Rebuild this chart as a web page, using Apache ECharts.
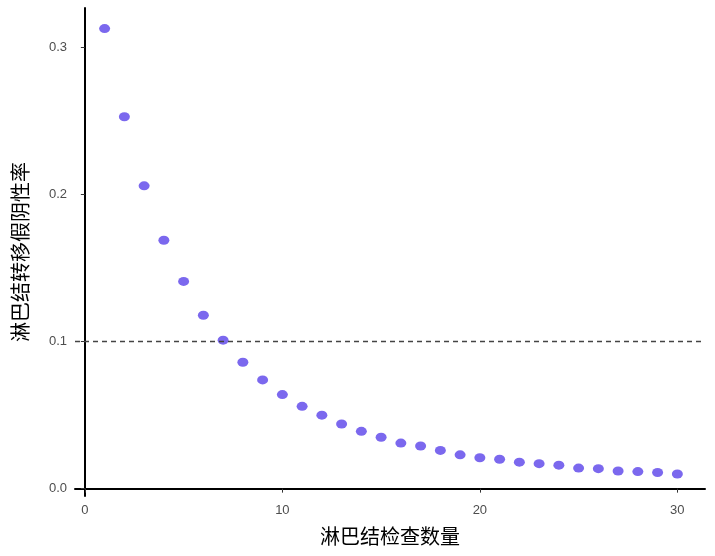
<!DOCTYPE html><html><head><meta charset="utf-8">
<script src="https://cdn.jsdelivr.net/npm/echarts@6/dist/echarts.min.js"></script>
<style>html,body{margin:0;background:#fff}#c{width:715px;height:556px}</style></head><body><div id="c"></div>
<script>
const counts=[1,2,3,4,5,6,7,8,9,10,11,12,13,14,15,16,17,18,19,20,21,22,23,24,25,26,27,28,29,30];
const rates=[0.313,0.253,0.206,0.169,0.141,0.118,0.101,0.086,0.074,0.064,0.056,0.050,0.044,0.039,0.035,0.031,0.029,0.026,0.023,0.021,0.020,0.018,0.017,0.016,0.014,0.0136,0.012,0.0116,0.011,0.010];
const xTicks=[0,10,20,30];
const yTicks=[0,0.1,0.2,0.3];
const threshold=0.1;
const ch=echarts.init(document.getElementById('c'));
const font='"Noto Sans CJK SC","Noto Sans",sans-serif';
ch.setOption({
 animation:false,
 grid:{left:75,right:10,top:8,bottom:60},
 xAxis:{type:'value',min:-0.5,max:31.4,
  name:'淋巴结检查数量',nameLocation:'middle',nameGap:30,nameTextStyle:{fontSize:20,color:'#000',fontFamily:font},
  axisLine:{lineStyle:{color:'#000',width:2}},
  axisTick:{customValues:xTicks,length:4,lineStyle:{color:'#333'}},
  axisLabel:{customValues:xTicks,color:'#4d4d4d',fontSize:13},
  splitLine:{show:false}},
 yAxis:{type:'value',min:-0.005,max:0.327,
  name:'淋巴结转移假阴性率',nameLocation:'middle',nameGap:45,nameTextStyle:{fontSize:20,color:'#000',fontFamily:font},
  axisLine:{show:true,lineStyle:{color:'#000',width:2}},
  axisTick:{show:true,customValues:yTicks,length:4,lineStyle:{color:'#333'}},
  axisLabel:{customValues:yTicks,color:'#4d4d4d',fontSize:13,formatter:v=>v.toFixed(1)},
  splitLine:{show:false}},
 series:[{type:'scatter',data:counts.map((c,i)=>[c,rates[i]]),symbol:'circle',symbolSize:[11,9],
  itemStyle:{color:'#7b68ee',opacity:1},
  markLine:{silent:true,symbol:'none',label:{show:false},lineStyle:{type:[5,4],color:'#444',width:1.3},data:[{yAxis:threshold}]}}]
});
</script></body></html>
